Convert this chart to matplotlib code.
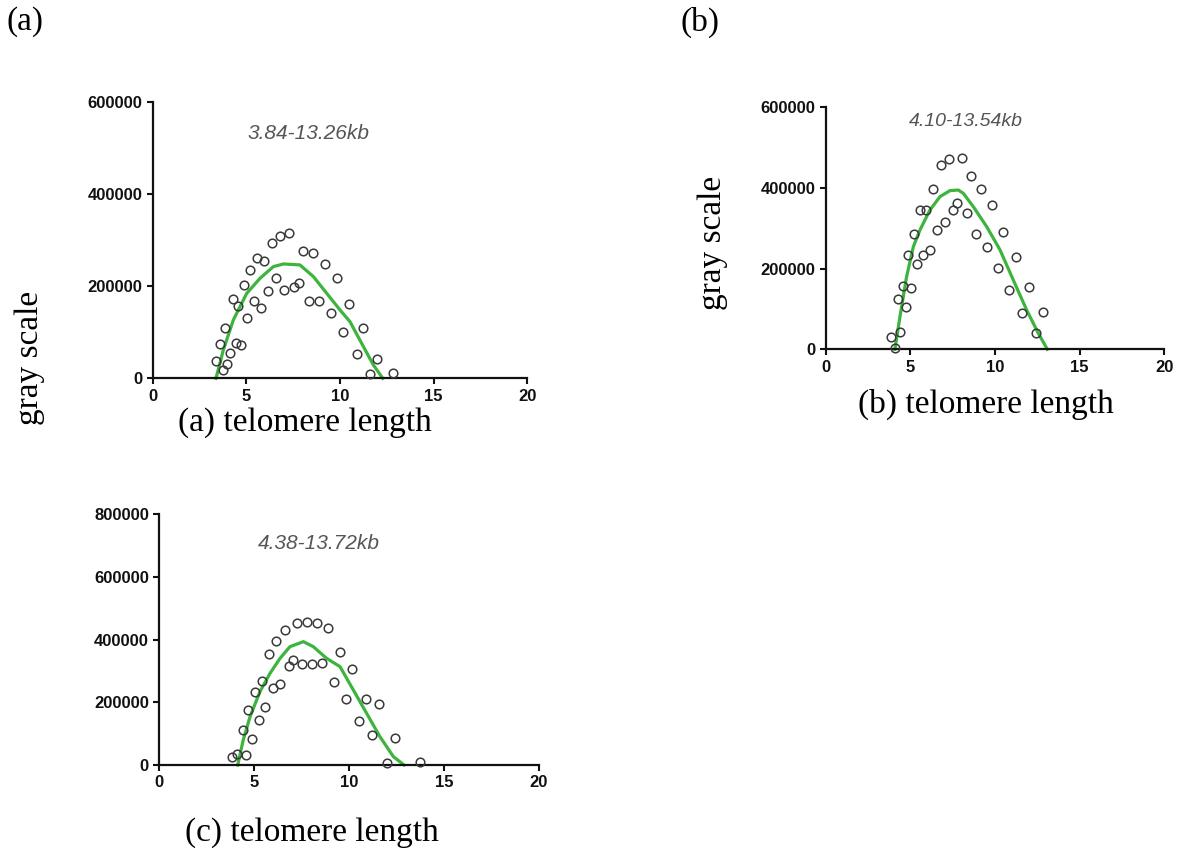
import matplotlib
matplotlib.use("Agg")
import matplotlib.pyplot as plt

# ---------------- data ----------------
# Panel (a)
a_x = [3.38, 3.74, 3.59, 3.86, 3.99, 4.13, 4.43, 4.72, 4.27, 4.54, 4.89, 5.04, 5.20,
       5.39, 5.57, 5.77, 5.94, 6.16, 6.37, 6.58, 6.80, 7.03, 7.28, 7.53, 7.79, 8.04,
       8.33, 8.58, 8.90, 9.20, 9.52, 9.82, 10.16, 10.50, 10.89, 11.25, 11.60, 11.99, 12.85]
a_y = [38300, 18000, 74500, 108400, 31000, 55700, 77300, 72300, 171300, 157600, 203100,
       131600, 235000, 168400, 260200, 153300, 254500, 189400, 294200, 216900, 308700,
       190800, 314500, 197400, 207500, 276100, 167000, 271800, 167000, 248000, 142400,
       216900, 100500, 160500, 52000, 109200, 9400, 41200, 12300]
a_fit_x = [3.38, 3.77, 4.31, 5.02, 5.73, 6.44, 6.98, 7.86, 8.58, 9.29, 10.00, 10.53,
           11.25, 11.78, 12.28]
a_fit_y = [0, 61400, 127000, 184300, 216900, 242200, 248000, 245900, 220500, 184300,
           148200, 122900, 68700, 28900, 0]
a_note = "3.84-13.26kb"

# Panel (b)
b_x = [3.86, 4.11, 4.25, 4.41, 4.55, 4.72, 4.86, 5.06, 5.20, 5.37, 5.59, 5.77, 5.94,
       6.18, 6.34, 6.56, 6.81, 7.07, 7.28, 7.52, 7.76, 8.03, 8.33, 8.58, 8.88, 9.17,
       9.51, 9.82, 10.16, 10.49, 10.85, 11.22, 11.61, 11.99, 12.42, 12.81]
b_y = [29800, 2500, 124000, 43800, 157800, 104100, 233000, 151200, 285900, 211600,
       345400, 233000, 344600, 246300, 398300, 295900, 456200, 316500, 471000, 345400,
       363600, 475200, 337200, 429700, 285900, 398300, 254500, 357800, 202500, 291700,
       147100, 229700, 89300, 153700, 41300, 92600]
b_fit_x = [4.09, 4.39, 4.78, 5.18, 5.57, 6.16, 6.75, 7.34, 7.83, 8.13, 8.72, 9.51,
           10.30, 11.08, 11.87, 12.56, 13.09]
b_fit_y = [0, 81000, 180000, 254500, 295900, 345400, 378500, 393400, 395000, 386800,
           353700, 304100, 246300, 171900, 97500, 39700, 0]
b_note = "4.10-13.54kb"

# Panel (c)
c_x = [3.85, 4.11, 4.58, 4.39, 4.69, 4.90, 5.06, 5.23, 5.39, 5.58, 5.78, 5.97, 6.16,
       6.37, 6.60, 6.81, 7.04, 7.27, 7.53, 7.78, 8.04, 8.32, 8.59, 8.90, 9.20, 9.52,
       9.83, 10.15, 10.50, 10.87, 11.22, 11.59, 11.99, 12.41, 13.73]
c_y = [26600, 35100, 30800, 111600, 175300, 83900, 233700, 143400, 267700, 185900,
       353800, 245400, 396300, 257100, 431300, 315500, 333600, 453600, 320800, 455800,
       320800, 452600, 326100, 436700, 264500, 361200, 210400, 307000, 141300, 210400,
       94600, 194400, 5300, 87100, 10600]
c_fit_x = [4.13, 4.42, 4.78, 5.30, 5.83, 6.36, 6.88, 7.59, 8.11, 8.81, 9.52, 10.22,
           10.92, 11.62, 12.33, 12.89]
c_fit_y = [0, 79700, 154000, 233700, 292200, 340000, 377200, 393100, 377200, 340000,
           313400, 239000, 164700, 90300, 26600, 0]
c_note = "4.38-13.72kb"

x_ticks = [0, 5, 10, 15, 20]
y_ticks_ab = [0, 200000, 400000, 600000]
y_ticks_c = [0, 200000, 400000, 600000, 800000]

# ---------------- figure ----------------
fig = plt.figure(figsize=(11.8, 8.58), dpi=100)

serif = ["Liberation Serif", "DejaVu Serif"]
sans = ["Liberation Sans", "DejaVu Sans"]
green = "#3db43d"
mcol = "#3a3a3a"


def panel(rect, xs, ys, fx, fy, note, note_xy, note_size, yticks, ymax):
    ax = fig.add_axes(rect)
    ax.plot(fx, fy, color=green, lw=2.3, zorder=2, clip_on=False)
    ax.plot(xs, ys, linestyle="none", marker="o", ms=6.2, mfc="none",
            mec=mcol, mew=1.1, zorder=3, clip_on=False)
    ax.set_xlim(0, 20)
    ax.set_ylim(0, ymax)
    ax.set_xticks(x_ticks)
    ax.set_yticks(yticks)
    ax.set_xticklabels([str(t) for t in x_ticks])
    ax.set_yticklabels([str(t) for t in yticks])
    for s in ("top", "right"):
        ax.spines[s].set_visible(False)
    for s in ("left", "bottom"):
        ax.spines[s].set_linewidth(1.6)
        ax.spines[s].set_color("#111111")
    ax.tick_params(direction="out", length=4.5, width=1.5, colors="#111111",
                   labelsize=12, pad=3)
    for lab in ax.get_xticklabels() + ax.get_yticklabels():
        lab.set_fontfamily(sans)
        lab.set_fontweight("bold")
    ax.text(note_xy[0], note_xy[1], note, transform=ax.transData,
            ha="center", va="center", fontsize=note_size, style="italic",
            color="#555555", family=sans)
    return ax


panel([0.1294, 0.5591, 0.3175, 0.3224], a_x, a_y, a_fit_x, a_fit_y,
      a_note, (8.3, 530000), 15, y_ticks_ab, 600000)
panel([0.6997, 0.5929, 0.2870, 0.2820], b_x, b_y, b_fit_x, b_fit_y,
      b_note, (8.3, 565000), 14, y_ticks_ab, 600000)
panel([0.1350, 0.1084, 0.3218, 0.2925], c_x, c_y, c_fit_x, c_fit_y,
      c_note, (8.4, 705000), 15, y_ticks_c, 800000)

# Figure labels
fig.text(25 / 1180, 1 - 22 / 858, "(a)", family=serif, fontsize=24,
         ha="center", va="center")
fig.text(700 / 1180, 1 - 22 / 858, "(b)", family=serif, fontsize=24,
         ha="center", va="center")
fig.text(30 / 1180, 1 - 358 / 858, "gray scale", family=serif, fontsize=24,
         rotation=90, ha="center", va="center")
fig.text(713 / 1180, 1 - 243 / 858, "gray scale", family=serif, fontsize=24,
         rotation=90, ha="center", va="center")
fig.text(305 / 1180, 1 - 423 / 858, "(a) telomere length", family=serif,
         fontsize=24, ha="center", va="center")
fig.text(986 / 1180, 1 - 404 / 858, "(b) telomere length", family=serif,
         fontsize=24, ha="center", va="center")
fig.text(312 / 1180, 1 - 833 / 858, "(c) telomere length", family=serif,
         fontsize=24, ha="center", va="center")

fig.savefig("out.png", dpi=100, facecolor="white")
